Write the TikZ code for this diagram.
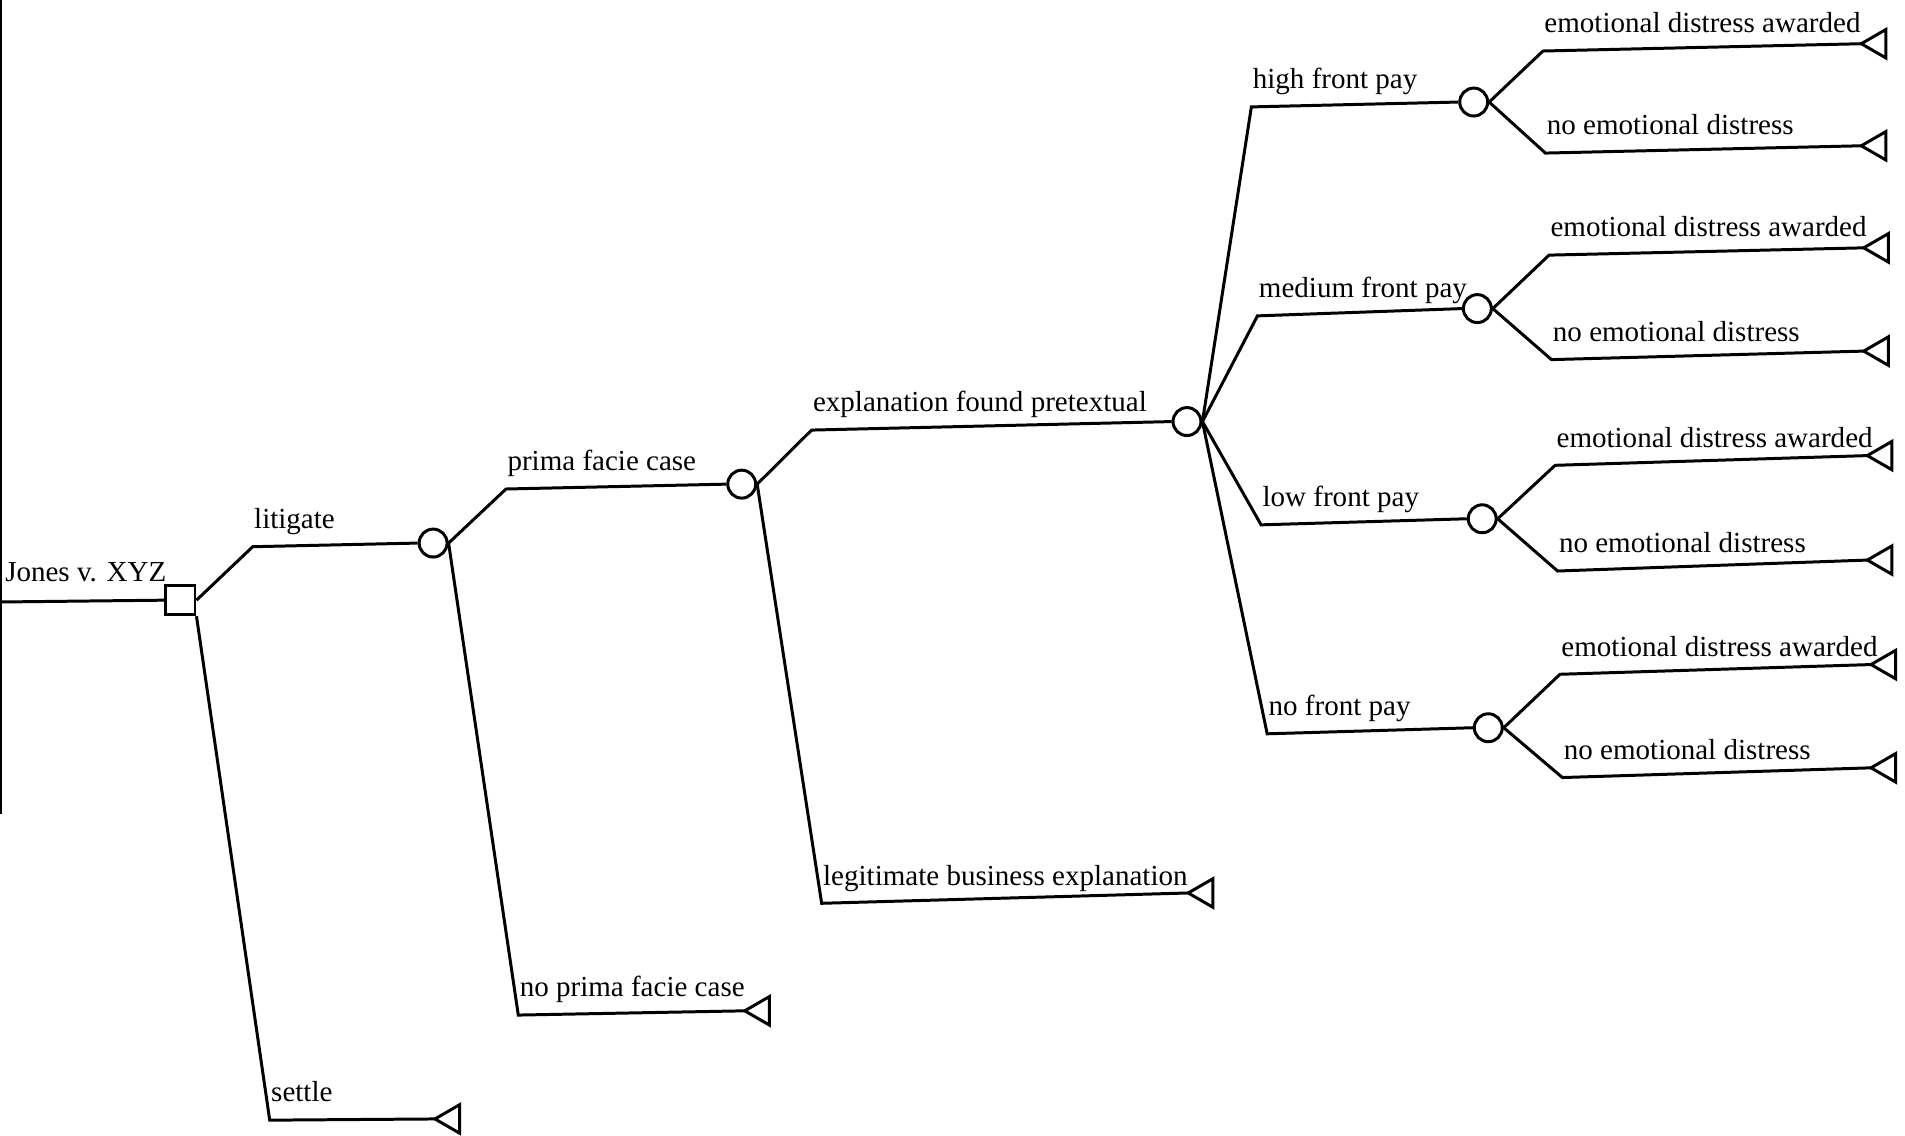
\documentclass[tikz,border=0pt]{standalone}
\usepackage{fontspec}
\setmainfont{Liberation Serif}
\usetikzlibrary{shapes.geometric,calc}

\begin{document}
\begin{tikzpicture}[
        x=0.02cm, y=-0.02cm,
        decsty/.style={
            draw, rectangle, line width=1.4pt,
            minimum size=0.48cm, inner sep=0pt,
        },
        chancesty/.style={
            draw, circle, line width=1.4pt,
            minimum size=0.46cm, inner sep=0pt,
        },
        termsty/.style={
            draw, regular polygon, regular polygon sides=3,
            shape border rotate=90, line width=1.4pt,
            minimum size=0.54cm, inner sep=0pt, outer sep=0pt,
            anchor=corner 1,
        },
        branchsty/.style={line width=1.4pt},
        txtsty/.style={font=\fontsize{13.6}{16}\selectfont, inner sep=0pt},
        lblsty/.style={txtsty, pos=0, anchor=base west, yshift=0.3cm},
    ]

    \useasboundingbox (0,0) rectangle (1568,935);
    \draw[line width=0.8pt] (1,0) -- (1,670);

    % decision and chance nodes
    \node[decsty] at (148.5,494) (jones) {};
    \node[chancesty] at (356.5,447) (litig) {};
    \node[chancesty] at (610.5,398.5) (prima) {};
    \node[chancesty] at (977,347) (pretx) {};
    \node[chancesty] at (1213,84) (high) {};
    \node[chancesty] at (1216,254) (med) {};
    \node[chancesty] at (1220,427) (low) {};
    \node[chancesty] at (1225,599) (nofp) {};

    % end points
    \node[termsty] at (358,921) (tsettle) {};
    \node[termsty] at (613,832) (tnoprima) {};
    \node[termsty] at (978,735) (tlegit) {};
    \node[termsty] at (1532,36) (thighed) {};
    \node[termsty] at (1532,120) (thighno) {};
    \node[termsty] at (1534,204) (tmeded) {};
    \node[termsty] at (1534,289) (tmedno) {};
    \node[termsty] at (1537,375) (tlowed) {};
    \node[termsty] at (1537,461) (tlowno) {};
    \node[termsty] at (1540,547) (tnofped) {};
    \node[termsty] at (1540,632) (tnofpno) {};

    % bends
    \coordinate (root) at (0,495.5);
    \coordinate (blitig) at (208,450);
    \coordinate (bsettle) at (222,922);
    \coordinate (bprima) at (416.5,402.5);
    \coordinate (bnoprima) at (426.6,835.5);
    \coordinate (bpretx) at (668,354);
    \coordinate (blegit) at (676.3,743.5);
    \coordinate (bhigh) at (1030,88);
    \coordinate (bmed) at (1035,260);
    \coordinate (blow) at (1038,432);
    \coordinate (bnofp) at (1043,604);
    \coordinate (bhighed) at (1270,42);
    \coordinate (bhighno) at (1272,126);
    \coordinate (bmeded) at (1275,210);
    \coordinate (bmedno) at (1277,296);
    \coordinate (blowed) at (1280,383);
    \coordinate (blowno) at (1282,470);
    \coordinate (bnofped) at (1284,555);
    \coordinate (bnofpno) at (1286,640);

    \node[txtsty, anchor=base west] at (4,479) (title) {Jones v. XYZ};
    \draw[branchsty] (root) -- (jones.west);

    \draw[branchsty] (jones.east) -- (blitig) -- node[lblsty] {litigate} (litig.west);
    \draw[branchsty] (jones.south east) -- (bsettle) -- node[lblsty] {settle} (tsettle.corner 1);

    \draw[branchsty] (litig.east) -- (bprima) -- node[lblsty] {prima facie case} (prima.west);
    \draw[branchsty] (litig.east) -- (bnoprima) -- node[lblsty] {no prima facie case} (tnoprima.corner 1);

    \draw[branchsty] (prima.east) -- (bpretx) -- node[lblsty] {explanation found pretextual} (pretx.west);
    \draw[branchsty] (prima.east) -- (blegit) -- node[lblsty] {legitimate business explanation} (tlegit.corner 1);

    \draw[branchsty] (pretx.east) -- (bhigh) -- node[lblsty] {high front pay} (high.west);
    \draw[branchsty] (pretx.east) -- (bmed) -- node[lblsty] {medium front pay} (med.west);
    \draw[branchsty] (pretx.east) -- (blow) -- node[lblsty] {low front pay} (low.west);
    \draw[branchsty] (pretx.east) -- (bnofp) -- node[lblsty] {no front pay} (nofp.west);

    \draw[branchsty] (high.east) -- (bhighed) -- node[lblsty] {emotional distress awarded} (thighed.corner 1);
    \draw[branchsty] (high.east) -- (bhighno) -- node[lblsty] {no emotional distress} (thighno.corner 1);
    \draw[branchsty] (med.east) -- (bmeded) -- node[lblsty] {emotional distress awarded} (tmeded.corner 1);
    \draw[branchsty] (med.east) -- (bmedno) -- node[lblsty] {no emotional distress} (tmedno.corner 1);
    \draw[branchsty] (low.east) -- (blowed) -- node[lblsty] {emotional distress awarded} (tlowed.corner 1);
    \draw[branchsty] (low.east) -- (blowno) -- node[lblsty] {no emotional distress} (tlowno.corner 1);
    \draw[branchsty] (nofp.east) -- (bnofped) -- node[lblsty] {emotional distress awarded} (tnofped.corner 1);
    \draw[branchsty] (nofp.east) -- (bnofpno) -- node[lblsty] {no emotional distress} (tnofpno.corner 1);

\end{tikzpicture}
\end{document}
